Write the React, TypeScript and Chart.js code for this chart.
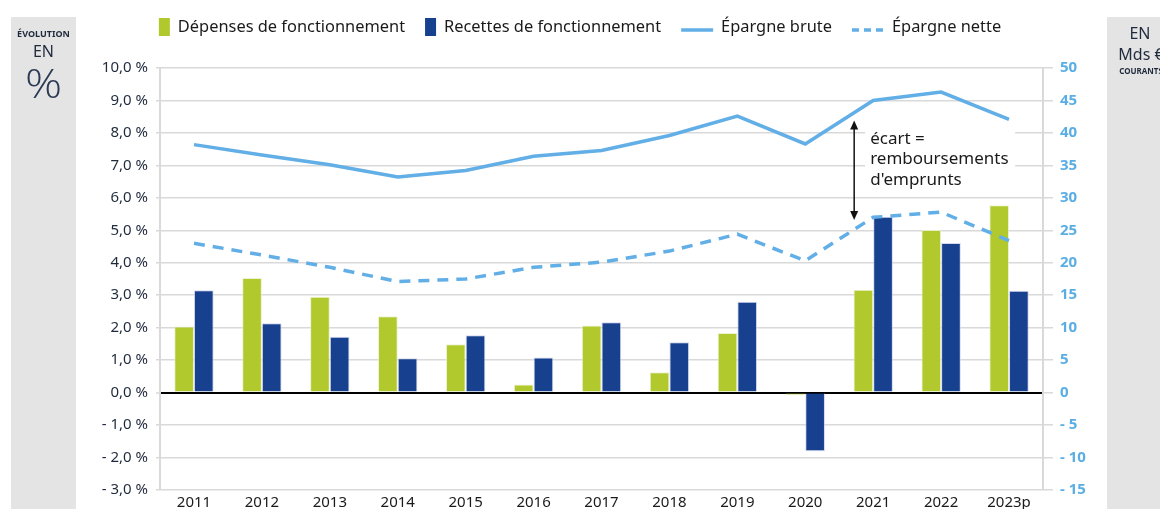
import React, { useEffect, useRef } from "react";
import { Chart, registerables } from "chart.js";

Chart.register(...registerables);

const years = ["2011", "2012", "2013", "2014", "2015", "2016", "2017", "2018", "2019", "2020", "2021", "2022", "2023p"];
const depenses = [2.04, 3.53, 2.95, 2.35, 1.49, 0.25, 2.07, 0.63, 1.84, -0.07, 3.17, 5.01, 5.77];
const recettes = [3.15, 2.14, 1.72, 1.06, 1.77, 1.08, 2.17, 1.55, 2.8, -1.81, 5.42, 4.61, 3.14];
const epargneBrute = [38.2, 36.6, 35.1, 33.2, 34.2, 36.4, 37.3, 39.6, 42.6, 38.3, 45.0, 46.3, 42.1];
const epargneNette = [23.0, 21.2, 19.3, 17.1, 17.5, 19.3, 20.1, 21.8, 24.4, 20.3, 27.0, 27.8, 23.4];

const leftRange = { min: -3, max: 10, step: 1 };
const rightRange = { min: -15, max: 50, step: 5 };

const legendLabels = ["Dépenses de fonctionnement", "Recettes de fonctionnement", "Épargne brute", "Épargne nette"];
const leftPanelLines = ["ÉVOLUTION", "EN", "%"];
const rightPanelLines = ["EN", "Mds €", "COURANTS"];
const annotationLines = ["écart =", "remboursements", "d'emprunts"];
// arrow position in data units: category index and right-axis values
const annotationIndex = 9.72;
const annotationTop = 41.9;
const annotationBottom = 26.6;

const GREEN = "#b1c92d";
const BLUE = "#17408f";
const LIGHT = "#62aee6";
const GRID = "#d9d9d9";
const TEXT = "#1f2a3d";

const fmtLeft = (v: number) => `${v < 0 ? "- " : ""}${Math.abs(v).toFixed(1).replace(".", ",")} %`;
const fmtRight = (v: number) => `${v < 0 ? "- " : ""}${Math.abs(v)}`;

const decorPlugin = {
  id: "decor",
  beforeDraw(chart: any) {
    const ctx = chart.ctx;
    ctx.save();
    ctx.fillStyle = "#e4e4e4";
    ctx.fillRect(11, 17, 65, chart.height - 17);
    ctx.fillRect(1107, 17, chart.width - 1107, chart.height - 17);
    ctx.fillStyle = TEXT;
    ctx.textAlign = "center";
    ctx.textBaseline = "middle";
    ctx.font = "bold 9px 'Noto Sans'";
    ctx.fillText(leftPanelLines[0], 43.5, 34);
    ctx.font = "16px 'Noto Sans'";
    ctx.fillText(leftPanelLines[1], 43.5, 52);
    ctx.save();
    ctx.fillStyle = "#2b3a55";
    ctx.translate(43.5, 87);
    ctx.scale(1.15, 1);
    ctx.font = "300 40px 'Open Sans'";
    ctx.fillText(leftPanelLines[2], 0, 0);
    ctx.restore();
    ctx.font = "16px 'Noto Sans'";
    ctx.fillText(rightPanelLines[0], 1140, 34);
    ctx.fillText(rightPanelLines[1], 1141, 55);
    ctx.font = "bold 8px 'Noto Sans'";
    ctx.fillText(rightPanelLines[2], 1141, 72);
    ctx.restore();
  },
  beforeDatasetsDraw(chart: any) {
    const ctx = chart.ctx;
    const xs = chart.scales.x;
    const y1 = chart.scales.y1;
    const x0 = xs.getPixelForValue(Math.floor(annotationIndex));
    const x1 = xs.getPixelForValue(Math.floor(annotationIndex) + 1);
    const ax = x0 + (annotationIndex - Math.floor(annotationIndex)) * (x1 - x0);
    const top = y1.getPixelForValue(annotationTop);
    ctx.save();
    ctx.fillStyle = "#ffffff";
    ctx.fillRect(ax + 11, top + 5, 150, 68);
    ctx.fillStyle = "#1a1a1a";
    ctx.font = "17px 'Noto Sans'";
    ctx.textAlign = "left";
    ctx.textBaseline = "alphabetic";
    annotationLines.forEach((t, i) => ctx.fillText(t, ax + 16, top + 23 + i * 20.5));
    ctx.restore();
  },
  afterDatasetsDraw(chart: any) {
    const ctx = chart.ctx;
    const xs = chart.scales.x;
    const y1 = chart.scales.y1;
    const x0 = xs.getPixelForValue(Math.floor(annotationIndex));
    const x1 = xs.getPixelForValue(Math.floor(annotationIndex) + 1);
    const ax = x0 + (annotationIndex - Math.floor(annotationIndex)) * (x1 - x0);
    const top = y1.getPixelForValue(annotationTop);
    const bot = y1.getPixelForValue(annotationBottom);
    ctx.save();
    ctx.strokeStyle = "#111";
    ctx.fillStyle = "#111";
    ctx.lineWidth = 1.5;
    ctx.beginPath();
    ctx.moveTo(ax, top + 6);
    ctx.lineTo(ax, bot - 6);
    ctx.stroke();
    ctx.beginPath();
    ctx.moveTo(ax, top);
    ctx.lineTo(ax - 4, top + 9);
    ctx.lineTo(ax + 4, top + 9);
    ctx.closePath();
    ctx.fill();
    ctx.beginPath();
    ctx.moveTo(ax, bot);
    ctx.lineTo(ax - 4, bot - 9);
    ctx.lineTo(ax + 4, bot - 9);
    ctx.closePath();
    ctx.fill();
    ctx.restore();
  },
  afterDraw(chart: any) {
    const ctx = chart.ctx;
    ctx.save();
    ctx.font = "16.4px 'Noto Sans'";
    const items = [
      { kind: "rect", color: GREEN, w: 11 },
      { kind: "rect", color: BLUE, w: 11 },
      { kind: "line", color: LIGHT, w: 32, dash: [] as number[] },
      { kind: "line", color: LIGHT, w: 32, dash: [7, 5] },
    ];
    const gapBox = 8;
    const gapItem = 20;
    const widths = items.map((it, i) => it.w + gapBox + ctx.measureText(legendLabels[i]).width);
    const total = widths.reduce((a, b) => a + b, 0) + gapItem * (items.length - 1);
    let x = chart.width / 2 - total / 2;
    const cy = 27;
    items.forEach((it, i) => {
      if (it.kind === "rect") {
        ctx.fillStyle = it.color;
        ctx.fillRect(x, cy - 9, it.w, 18);
      } else {
        ctx.strokeStyle = it.color;
        ctx.lineWidth = 3.5;
        ctx.setLineDash(it.dash || []);
        ctx.beginPath();
        ctx.moveTo(x, cy + 3);
        ctx.lineTo(x + it.w, cy + 3);
        ctx.stroke();
        ctx.setLineDash([]);
      }
      ctx.fillStyle = "#1a1a1a";
      ctx.textAlign = "left";
      ctx.textBaseline = "middle";
      ctx.fillText(legendLabels[i], x + it.w + gapBox, cy);
      x += widths[i] + gapItem;
    });
    ctx.restore();
  },
};

export default function App() {
  const ref = useRef<HTMLCanvasElement | null>(null);
  useEffect(() => {
    if (!ref.current) return;
    const chart = new Chart(ref.current, {
      type: "bar",
      data: {
        labels: years,
        datasets: [
          {
            type: "line",
            label: legendLabels[2],
            data: epargneBrute,
            yAxisID: "y1",
            borderColor: LIGHT,
            backgroundColor: LIGHT,
            borderWidth: 3.5,
            pointRadius: 0,
            tension: 0,
            order: 0,
          },
          {
            type: "line",
            label: legendLabels[3],
            data: epargneNette,
            yAxisID: "y1",
            borderColor: LIGHT,
            backgroundColor: LIGHT,
            borderWidth: 3.5,
            borderDash: [11, 8],
            pointRadius: 0,
            tension: 0,
            order: 0,
          },
          {
            type: "bar",
            label: legendLabels[0],
            data: depenses,
            yAxisID: "y",
            backgroundColor: GREEN,
            borderColor: "rgba(230,240,200,0.8)",
            borderWidth: 1,
            categoryPercentage: 0.58,
            barPercentage: 1,
            order: 1,
          },
          {
            type: "bar",
            label: legendLabels[1],
            data: recettes,
            yAxisID: "y",
            backgroundColor: BLUE,
            borderColor: "rgba(200,205,235,0.8)",
            borderWidth: 1,
            categoryPercentage: 0.58,
            barPercentage: 1,
            order: 1,
          },
        ] as any,
      },
      options: {
        responsive: false,
        animation: false,
        layout: { padding: { top: 68, left: 0, right: 0, bottom: 0 } },
        plugins: { legend: { display: false }, tooltip: { enabled: false } },
        scales: {
          x: {
            grid: { display: false, drawTicks: false },
            border: { display: false },
            ticks: { color: "#1a1a1a", font: { family: "'Noto Sans'", size: 15 }, padding: 4, maxRotation: 0, autoSkip: false },
            afterFit: (s: any) => { s.height = 19; },
          },
          y: {
            position: "left",
            min: leftRange.min,
            max: leftRange.max,
            ticks: { stepSize: leftRange.step, callback: (v: any) => fmtLeft(Number(v)), color: TEXT, font: { family: "'Noto Sans'", size: 15 }, padding: 8 },
            grid: {
              color: (c: any) => (c.tick && c.tick.value === 0 ? "#000000" : GRID),
              lineWidth: (c: any) => (c.tick && c.tick.value === 0 ? 2 : 1.5),
              tickColor: GRID,
              tickWidth: 1.5,
              tickLength: 4,
            },
            border: { display: true, color: GRID, width: 2 },
            afterFit: (s: any) => { s.width = 160; },
          },
          y1: {
            position: "right",
            min: rightRange.min,
            max: rightRange.max,
            ticks: { stepSize: rightRange.step, callback: (v: any) => fmtRight(Number(v)), color: "#5aaee4", font: { family: "'Noto Sans'", size: 15, weight: "bold" }, padding: 7 },
            grid: { drawOnChartArea: false, color: GRID, lineWidth: 1.5, tickLength: 10 },
            border: { display: true, color: GRID, width: 2 },
            afterFit: (s: any) => { s.width = 117; },
          },
        },
      } as any,
      plugins: [decorPlugin],
    });
    return () => chart.destroy();
  }, []);
  return (
    <div style={{ position: "fixed", left: 0, top: 0, width: 1160, height: 509, background: "#ffffff" }}>
      <canvas ref={ref} width={1160} height={509} style={{ display: "block" }} />
    </div>
  );
}
